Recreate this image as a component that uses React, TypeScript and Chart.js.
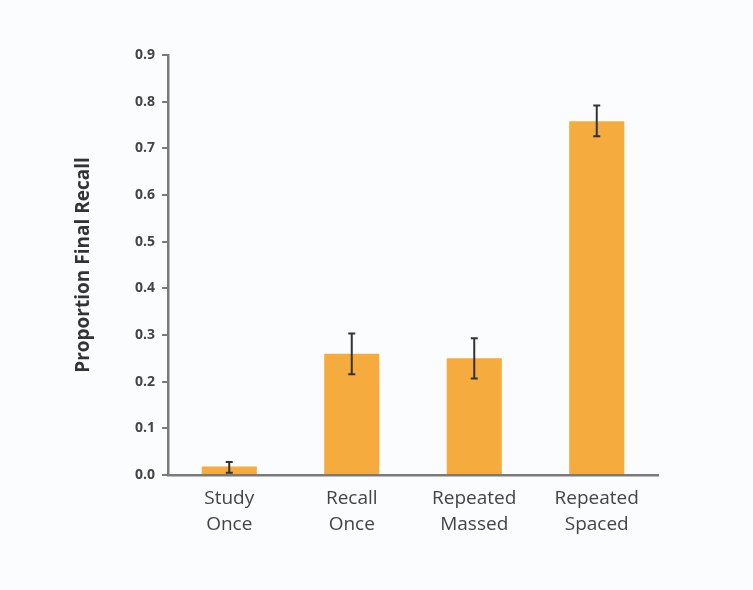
import React, { useEffect, useRef } from "react";
import { Chart, registerables } from "chart.js";

Chart.register(...registerables);

const categories: string[][] = [
  ["Study", "Once"],
  ["Recall", "Once"],
  ["Repeated", "Massed"],
  ["Repeated", "Spaced"],
];
const recallValues: number[] = [0.018, 0.26, 0.25, 0.758];
const errorLow: number[] = [0.005, 0.216, 0.207, 0.726];
const errorHigh: number[] = [0.028, 0.303, 0.293, 0.792];
const yTicks: number[] = [0, 0.1, 0.2, 0.3, 0.4, 0.5, 0.6, 0.7, 0.8, 0.9];

const errorBarPlugin = {
  id: "errorBars",
  afterDatasetsDraw(chart: any) {
    const { ctx } = chart;
    const meta = chart.getDatasetMeta(0);
    const y = chart.scales.y;
    ctx.save();
    ctx.strokeStyle = "#333333";
    ctx.lineWidth = 2;
    meta.data.forEach((bar: any, i: number) => {
      const x = bar.x;
      const top = y.getPixelForValue(errorHigh[i]);
      const bottom = y.getPixelForValue(errorLow[i]);
      ctx.beginPath();
      ctx.moveTo(x, top);
      ctx.lineTo(x, bottom);
      ctx.moveTo(x - 3.5, top);
      ctx.lineTo(x + 3.5, top);
      ctx.moveTo(x - 3.5, bottom);
      ctx.lineTo(x + 3.5, bottom);
      ctx.stroke();
    });
    ctx.restore();
  },
};

const bgPlugin = {
  id: "bg",
  beforeDraw(chart: any) {
    const { ctx, width, height } = chart;
    ctx.save();
    ctx.fillStyle = "#fbfcfd";
    ctx.fillRect(0, 0, width, height);
    ctx.restore();
  },
};

export default function App() {
  const ref = useRef<HTMLCanvasElement | null>(null);
  useEffect(() => {
    if (!ref.current) return;
    const chart = new Chart(ref.current, {
      type: "bar",
      data: {
        labels: categories,
        datasets: [
          {
            data: recallValues,
            backgroundColor: "#F5AB3E",
            borderWidth: 0,
            barPercentage: 0.45,
            categoryPercentage: 1,
          },
        ],
      },
      options: {
        animation: false,
        responsive: false,
        maintainAspectRatio: false,
        layout: { padding: { left: 72, top: 55, right: 95, bottom: 0 } },
        plugins: { legend: { display: false }, tooltip: { enabled: false } },
        scales: {
          x: {
            grid: { display: false, drawTicks: false },
            border: { color: "#7a7a7a", width: 2.5 },
            ticks: {
              color: "#444444",
              padding: 10,
              font: { family: "'Open Sans', sans-serif", size: 19, lineHeight: 1.4 },
            },
            afterFit(scale: any) {
              scale.height = 115;
            },
          },
          y: {
            min: 0,
            max: 0.9,
            afterBuildTicks(scale: any) {
              scale.ticks = yTicks.map((v) => ({ value: v }));
            },
            grid: {
              drawOnChartArea: false,
              drawTicks: true,
              tickLength: 6,
              color: "#7a7a7a",
              lineWidth: 2,
            },
            border: { color: "#7a7a7a", width: 2.5 },
            ticks: {
              color: "#444444",
              padding: 7,
              font: { family: "'Open Sans', sans-serif", size: 14, weight: "bold" },
              callback: (v: any) => Number(v).toFixed(1),
            },
            title: {
              display: true,
              text: "Proportion Final Recall",
              color: "#333333",
              padding: { top: 0, bottom: 0 },
              font: { family: "'Open Sans', sans-serif", size: 19, weight: "bold" },
            },
            afterFit(scale: any) {
              scale.width = 96;
            },
          },
        },
      },
      plugins: [bgPlugin, errorBarPlugin],
    });
    return () => chart.destroy();
  }, []);
  return (
    <div style={{ position: "fixed", left: 0, top: 0, width: 753, height: 590 }}>
      <canvas ref={ref} width={753} height={590} style={{ width: 753, height: 590 }} />
    </div>
  );
}
